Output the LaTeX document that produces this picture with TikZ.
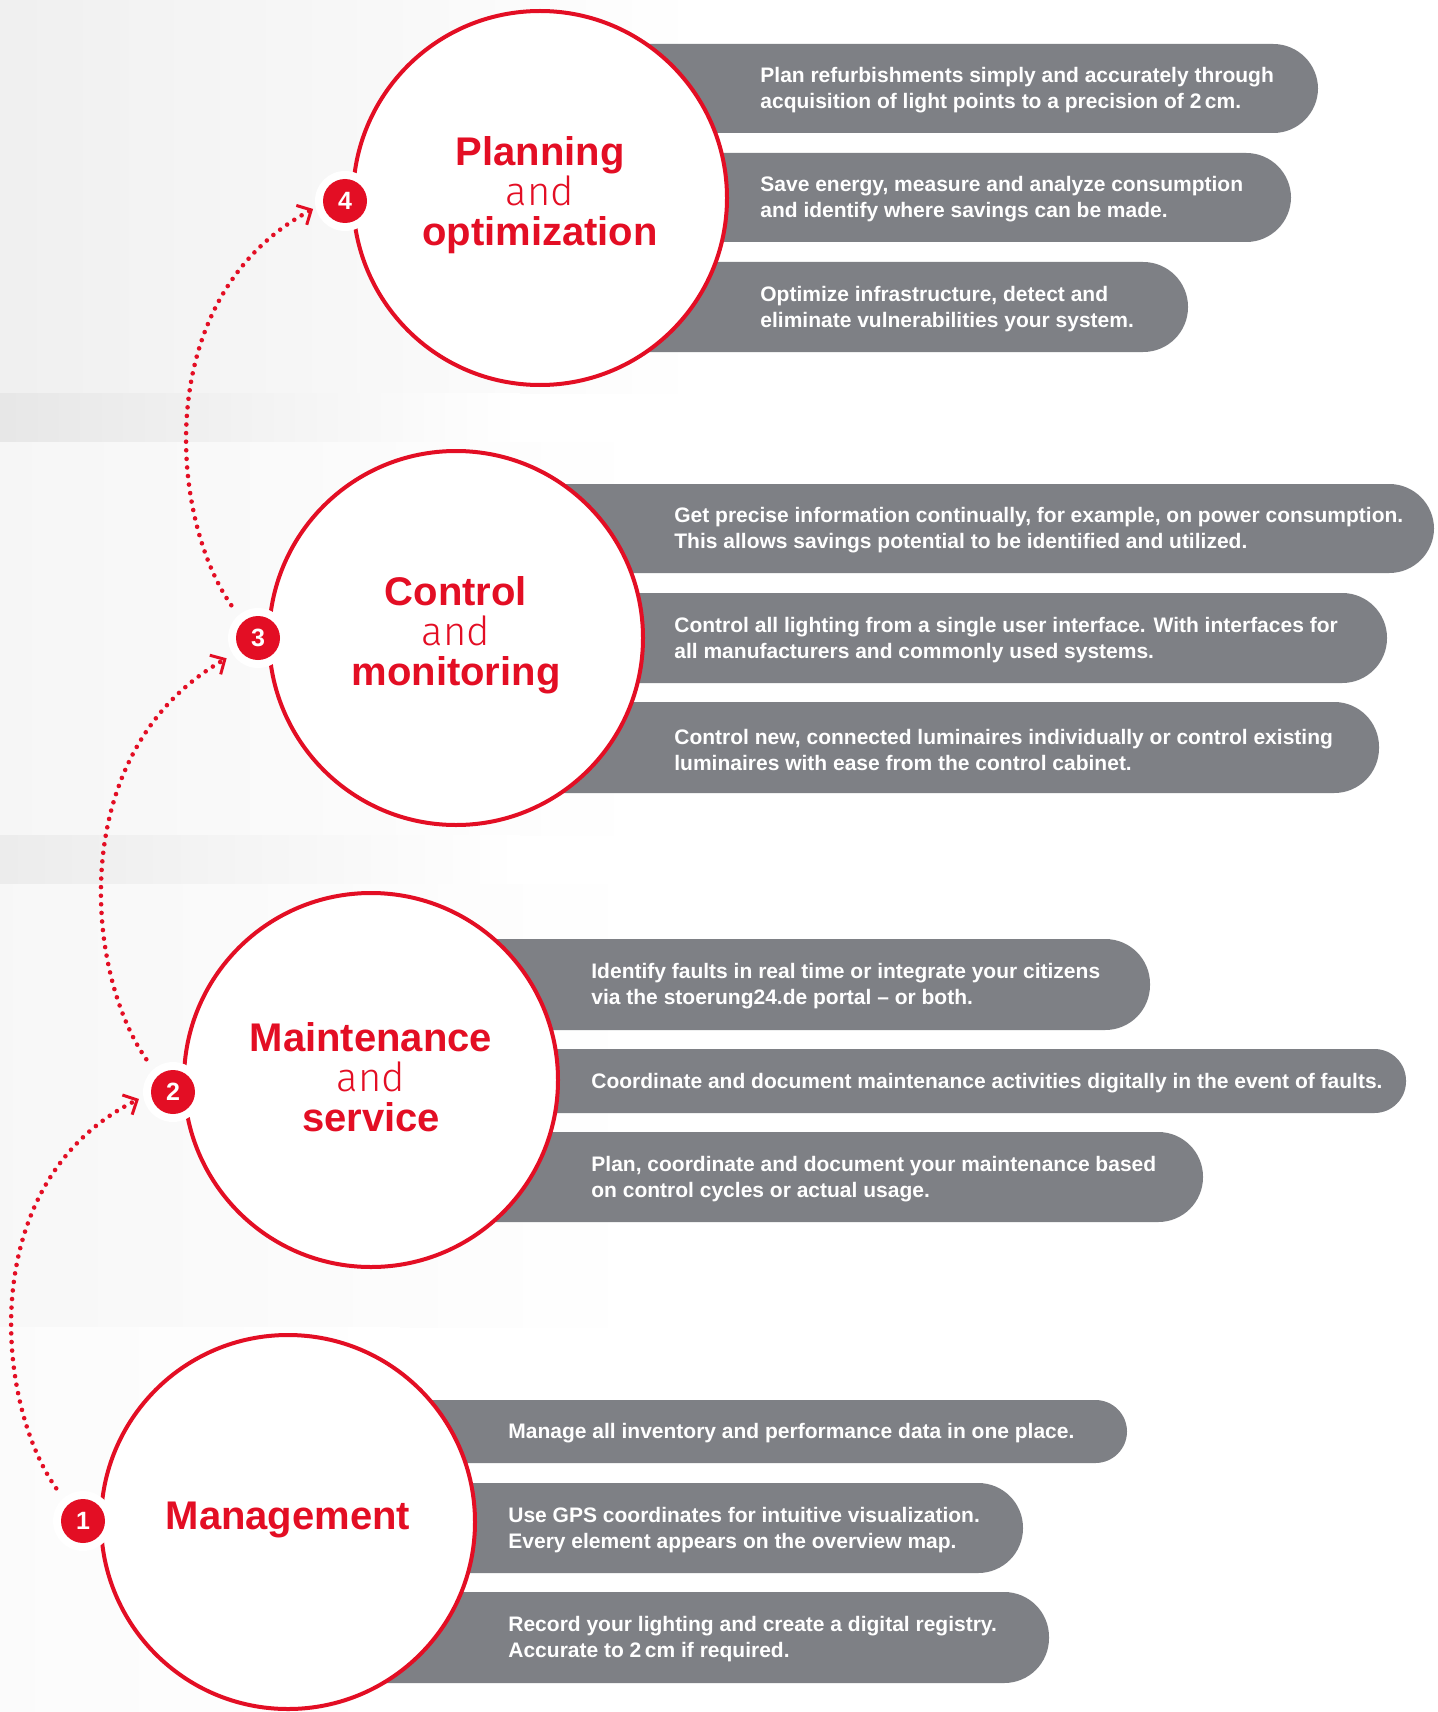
\documentclass[tikz,border=0pt]{standalone}
\usepackage{fontspec}
\setmainfont{Liberation Sans}
\newfontfamily\andfont{Fira Sans Light}
\usetikzlibrary{arrows.meta}
\definecolor{brandred}{RGB}{227,14,36}
\definecolor{bargray}{RGB}{126,128,133}
\begin{document}
\begin{tikzpicture}[x=0.5pt,y=-0.5pt,
  bar/.style={fill=bargray, rounded corners=22.4pt},
  sbar/.style={fill=bargray, rounded corners=15.8pt},
  bartext/.style={anchor=west, text=white, font=\bfseries\fontsize{10.5}{13}\selectfont, align=left, inner sep=0pt},
  ring/.style={circle, draw=brandred, line width=2pt, fill=white, minimum size=187pt, inner sep=0pt},
  halo/.style={circle, fill=white, minimum size=30pt, inner sep=0pt},
  badge/.style={circle, fill=brandred, text=white, minimum size=22pt, inner sep=0pt, font=\bfseries\fontsize{12.5}{12.5}\selectfont},
  title/.style={text=brandred, align=center, inner sep=0pt, font=\bfseries\fontsize{20}{20}\selectfont},
  dotarrow/.style={brandred, line width=2.3pt, line cap=round, dash pattern=on 0pt off 4.3pt, shorten <=10pt,
    -{Straight Barb[length=5.5pt,width=11pt,line width=1.5pt]}},
]
\useasboundingbox (0,0) rectangle (1437,1712);
% background
\fill[white] (0,0) rectangle (1437,1712);
\fill[left color=gray!12, right color=white] (0,0) rectangle (700,393);
\fill[left color=gray!19, right color=white] (0,393) rectangle (520,442);
\fill[left color=gray!7, right color=white] (0,442) rectangle (650,835);
\fill[left color=gray!15, right color=white] (0,835) rectangle (520,884);
\fill[left color=gray!6, right color=white] (0,884) rectangle (650,1327);
\fill[left color=gray!3, right color=white] (0,1327) rectangle (400,1712);

% bars group 4
\fill[bar] (540,44) rectangle (1318,133);
\fill[bar] (540,153) rectangle (1291,242);
\fill[bar] (540,262) rectangle (1188,352);
% bars group 3
\fill[bar] (456,484) rectangle (1434,573);
\fill[bar] (456,593) rectangle (1387,683);
\fill[bar] (456,702) rectangle (1379,793);
% bars group 2
\fill[bar] (371,939) rectangle (1150,1030);
\fill[sbar] (371,1049) rectangle (1406,1113);
\fill[bar] (371,1132) rectangle (1203,1222);
% bars group 1
\fill[sbar] (288,1400) rectangle (1127,1463);
\fill[bar] (288,1483) rectangle (1023,1573);
\fill[bar] (288,1592) rectangle (1049,1683);

% bar texts
\node[bartext] (t41) at (760,90.5) {Plan refurbishments simply and accurately through\\acquisition of light points to a precision of 2\,cm.};
\node[bartext] (t42) at (760,199.5) {Save energy, measure and analyze consumption\\and identify where savings can be made.};
\node[bartext] (t43) at (760,309) {Optimize infrastructure, detect and\\eliminate vulnerabilities your system.};
\node[bartext] (t31) at (674,530.5) {Get precise information continually, for example, on power consumption.\\This allows savings potential to be identified and utilized.};
\node[bartext] (t32) at (674,640) {Control all lighting from a single user interface. With interfaces for\\all manufacturers and commonly used systems.};
\node[bartext] (t33) at (674,749.5) {Control new, connected luminaires individually or control existing\\luminaires with ease from the control cabinet.};
\node[bartext] (t21) at (591,986.5) {Identify faults in real time or integrate your citizens\\via the stoerung24.de portal -- or both.};
\node[bartext] (t22) at (591,1083) {Coordinate and document maintenance activities digitally in the event of faults.};
\node[bartext] (t23) at (591,1179) {Plan, coordinate and document your maintenance based\\on control cycles or actual usage.};
\node[bartext] (t11) at (508,1433.5) {Manage all inventory and performance data in one place.};
\node[bartext] (t12) at (508,1530) {Use GPS coordinates for intuitive visualization.\\Every element appears on the overview map.};
\node[bartext] (t13) at (508,1639.5) {Record your lighting and create a digital registry.\\Accurate to 2\,cm if required.};

% circles
\node[ring] (c4) at (540,198) {};
\node[ring] (c3) at (456,638) {};
\node[ring] (c2) at (371,1080) {};
\node[ring] (c1) at (288,1522) {};

% titles
\node[title] (n4) at (540,195) {Planning\\{\andfont\mdseries and}\\optimization};
\node[title] (n3) at (456,635) {Control\\{\andfont\mdseries and}\\monitoring};
\node[title] (n2) at (371,1077) {Maintenance\\{\andfont\mdseries and}\\service};
\node[title] (n1) at (288,1520) {Management};

% badges
\node[halo] (h4) at (345,201) {};
\node[halo] (h3) at (258,638) {};
\node[halo] (h2) at (173,1092) {};
\node[halo] (h1) at (83,1521) {};
\node[badge] (b4) at (345,201) {4};
\node[badge] (b3) at (258,638) {3};
\node[badge] (b2) at (173,1092) {2};
\node[badge] (b1) at (83,1521) {1};

% dotted arrows
\draw[dotarrow, shorten >=6.5pt] (b1.133) .. controls (-6,1400) and (-24,1180) .. (b2.183);
\draw[dotarrow, shorten >=7.5pt] (b2.133) .. controls (84,970) and (66,750) .. (b3.215);
\draw[dotarrow, shorten >=5.5pt] (b3.133) .. controls (169,516) and (151,296) .. (b4.187);
\end{tikzpicture}
\end{document}
